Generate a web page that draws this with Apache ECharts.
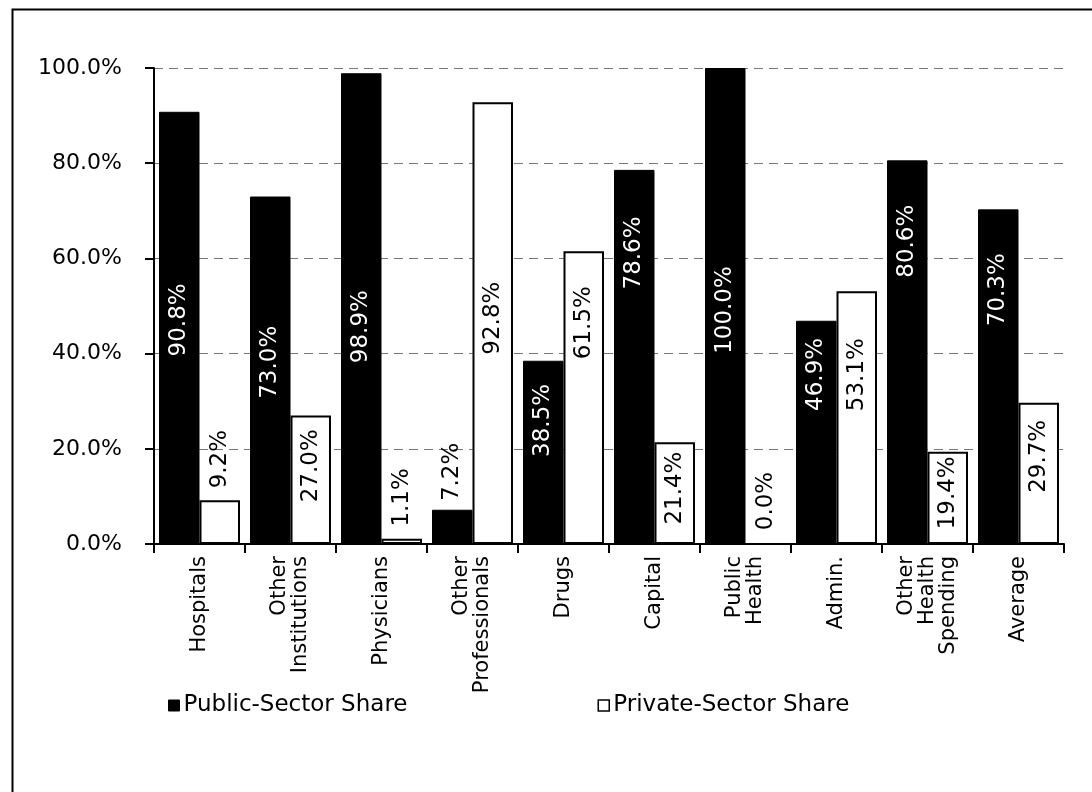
<!DOCTYPE html>
<html>
<head>
<meta charset="utf-8">
<title>Public and Private Sector Shares of Health Spending</title>
<script src="https://cdn.jsdelivr.net/npm/echarts@6/dist/echarts.min.js"></script>
<style>
  html, body { margin: 0; padding: 0; background: #fff; }
  #chart { width: 1092px; height: 792px; }
</style>
</head>
<body>
<div id="chart"></div>
<script>
// Spending categories (line breaks as shown under the axis)
const categories = [
  'Hospitals', 'Other\nInstitutions', 'Physicians', 'Other\nProfessionals', 'Drugs',
  'Capital', 'Public\nHealth', 'Admin.', 'Other\nHealth\nSpending', 'Average'
];

// Shares in percent
const publicShare  = [90.8, 73.0, 98.9, 7.2, 38.5, 78.6, 100.0, 46.9, 80.6, 70.3];
const privateShare = [9.2, 27.0, 1.1, 92.8, 61.5, 21.4, 0.0, 53.1, 19.4, 29.7];

// Y axis ticks (percent)
const yTicks = { min: 0, max: 100, step: 20 };

// Vertical nudge (px, negative = upward) of each value label from its bar's middle
const publicLabelShift  = [-8, -8, 18, -55, -32, -104, 4, -58, -111, -87];
const privateLabelShift = [-63, -14, -44, -5, -75, -5, -43, -43, -5, -17];

const FONT = 'DejaVu Sans';
const pct = v => Number(v).toFixed(1) + '%';

// Labels are rotated 90°, so their offset is given in the rotated frame:
// the text's own x direction points up the screen.
function buildItems(values, shifts, onDark) {
  return values.map((v, i) => {
    const outside = v < 15;
    return {
      value: v,
      label: {
        offset: [-shifts[i], 0],
        color: onDark && !outside ? '#fff' : '#000'
      }
    };
  });
}

const chart = echarts.init(document.getElementById('chart'), null, { renderer: 'canvas' });

const labelBase = {
  show: true,
  position: 'inside',
  rotate: 90,
  fontFamily: FONT,
  fontSize: 23,
  formatter: p => pct(p.value)
};

chart.setOption({
  animation: false,
  backgroundColor: '#fff',
  textStyle: { fontFamily: FONT },
  graphic: [{
    type: 'rect',
    left: 10, top: 7,
    shape: { width: 1100, height: 800 },
    style: { fill: 'none', stroke: '#000', lineWidth: 2 },
    silent: true
  }],
  grid: { left: 154, right: 28, top: 68, bottom: 248, containLabel: false },
  legend: {
    left: 163, top: 689,
    itemWidth: 11, itemHeight: 11, itemGap: 190,
    icon: 'rect',
    textStyle: { fontFamily: FONT, fontSize: 23, color: '#000', padding: [0, 0, 0, -1] },
    data: [
      { name: 'Public-Sector Share', itemStyle: { color: '#000', borderColor: '#000', borderWidth: 1 } },
      { name: 'Private-Sector Share', itemStyle: { color: '#fff', borderColor: '#000', borderWidth: 1.5 } }
    ]
  },
  xAxis: {
    type: 'category',
    data: categories,
    boundaryGap: true,
    axisLine: { show: true, lineStyle: { color: '#000', width: 2 } },
    axisTick: { show: true, alignWithLabel: false, length: 9, lineStyle: { color: '#000', width: 2 } },
    axisLabel: {
      rotate: 90, interval: 0, margin: 12,
      fontFamily: FONT, fontSize: 21, color: '#000', lineHeight: 21
    }
  },
  yAxis: {
    type: 'value',
    min: yTicks.min, max: yTicks.max, interval: yTicks.step,
    axisLine: { show: true, lineStyle: { color: '#000', width: 2 } },
    axisTick: { show: true, inside: false, length: 9, lineStyle: { color: '#000', width: 2 } },
    axisLabel: { margin: 32, fontFamily: FONT, fontSize: 22, color: '#000', formatter: v => pct(v) },
    splitLine: { show: true, lineStyle: { color: '#777', width: 1, type: [9, 6] } }
  },
  series: [
    {
      name: 'Public-Sector Share',
      type: 'bar',
      data: buildItems(publicShare, publicLabelShift, true),
      barGap: '0%',
      barCategoryGap: '11%',
      itemStyle: { color: '#000', borderColor: '#000', borderWidth: 1 },
      label: labelBase
    },
    {
      name: 'Private-Sector Share',
      type: 'bar',
      data: buildItems(privateShare, privateLabelShift, false),
      barGap: '0%',
      barCategoryGap: '11%',
      itemStyle: { color: '#fff', borderColor: '#000', borderWidth: 2 },
      label: labelBase
    }
  ]
});
</script>
</body>
</html>
